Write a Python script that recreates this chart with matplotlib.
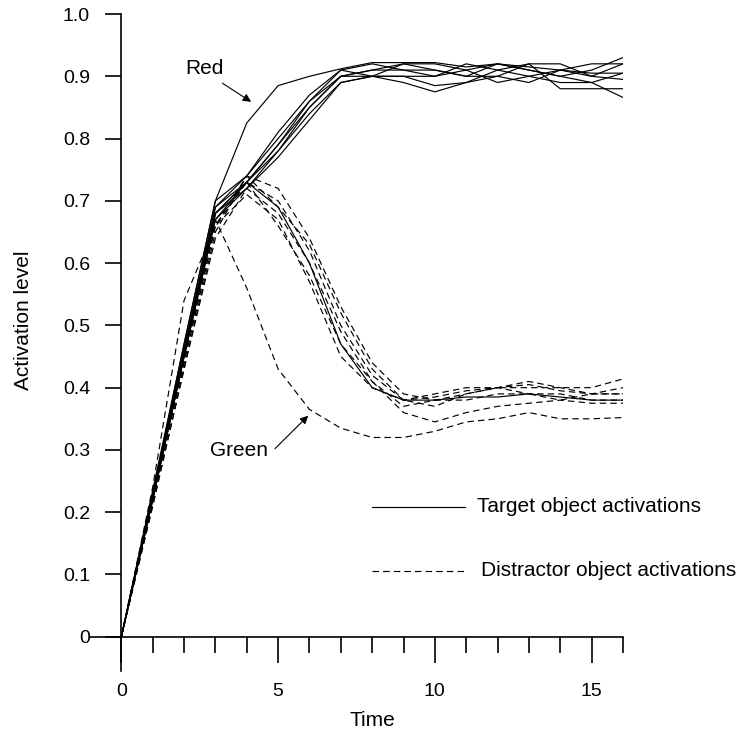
import numpy as np
import matplotlib
matplotlib.use("Agg")
import matplotlib.pyplot as plt
from matplotlib.lines import Line2D

plt.rcParams['font.family'] = ['Liberation Sans', 'DejaVu Sans']

# time steps
time = np.arange(0, 17)

# target object activations (solid)
red = [0, .235, .47, .70, .825, .885, .90, .912, .922, .922, .922, .915, .92, .915, .91, .905, .905]
targets = [
    [0, .23, .46, .69, .73, .79, .85, .90, .91, .91, .91, .90, .92, .91, .90, .91, .93],
    [0, .23, .46, .68, .72, .78, .84, .89, .90, .90, .885, .89, .90, .92, .92, .90, .92],
    [0, .22, .45, .68, .73, .79, .86, .91, .92, .91, .90, .92, .91, .90, .89, .89, .905],
    [0, .23, .47, .70, .74, .80, .86, .90, .90, .92, .92, .91, .89, .90, .91, .90, .895],
    [0, .22, .45, .67, .72, .77, .83, .89, .90, .89, .875, .89, .91, .92, .88, .88, .88],
    [0, .23, .46, .69, .74, .81, .87, .91, .90, .90, .90, .91, .92, .91, .90, .89, .866],
    [0, .22, .45, .68, .73, .78, .85, .90, .91, .92, .91, .90, .90, .89, .91, .92, .92],
]
# one target run that decays along with the distractors
target_low = [0, .22, .45, .67, .73, .69, .60, .47, .40, .38, .38, .385, .385, .39, .385, .38, .38]

# distractor object activations (dashed)
green = [0, .22, .45, .67, .56, .43, .365, .335, .32, .32, .33, .345, .35, .36, .35, .35, .352]
distractors = [
    [0, .22, .44, .66, .73, .70, .62, .50, .42, .38, .37, .39, .40, .40, .40, .40, .414],
    [0, .21, .43, .65, .74, .72, .64, .53, .44, .39, .38, .39, .40, .41, .40, .39, .40],
    [0, .22, .45, .68, .73, .66, .58, .47, .41, .37, .38, .38, .39, .39, .38, .39, .39],
    [0, .21, .43, .64, .72, .68, .60, .49, .41, .36, .345, .36, .37, .375, .38, .375, .375],
    [0, .22, .44, .66, .74, .69, .63, .52, .43, .38, .39, .40, .40, .39, .39, .38, .38],
    [0, .24, .54, .66, .71, .67, .57, .45, .40, .38, .385, .395, .40, .405, .395, .39, .39],
]

xticks = [0, 5, 10, 15]
yticks = [0, 0.1, 0.2, 0.3, 0.4, 0.5, 0.6, 0.7, 0.8, 0.9, 1.0]
ytick_labels = ['0', '0.1', '0.2', '0.3', '0.4', '0.5', '0.6', '0.7', '0.8', '0.9', '1.0']

fig = plt.figure(figsize=(7.45, 7.3), dpi=100)
ax = fig.add_axes([0.1208, 0.0808, 0.7154, 0.9])

solid = dict(color='black', lw=0.85, ls='-')
dashed = dict(color='black', lw=0.85, ls=(0, (5.5, 3.5)))

for d in distractors:
    ax.plot(time, d, **dashed)
ax.plot(time, green, **dashed)
for t in targets:
    ax.plot(time, t, **solid)
ax.plot(time, target_low, **solid)
ax.plot(time, red, **solid)

ax.set_xlim(-1, 16)
ax.set_ylim(-0.055, 1.0)

# axes cross at the origin
for s in ['top', 'right']:
    ax.spines[s].set_visible(False)
ax.spines['left'].set_position(('data', 0))
ax.spines['bottom'].set_position(('data', 0))
ax.spines['left'].set_linewidth(1.2)
ax.spines['bottom'].set_linewidth(1.2)

ax.set_xticks(xticks)
ax.set_xticks(np.arange(0, 17), minor=True)
ax.set_yticks(yticks)
ax.set_yticklabels(ytick_labels)
ax.tick_params(axis='x', which='major', direction='out', length=19, width=1.2, pad=14, labelsize=14)
ax.tick_params(axis='x', which='minor', direction='out', length=11.5, width=1.2)
ax.tick_params(axis='y', which='major', direction='out', length=11.5, width=1.2, pad=11, labelsize=14)

ax.set_xlabel('Time', fontsize=15)
ax.xaxis.set_label_coords(0.529, -0.061)
ax.set_ylabel('Activation level', fontsize=15)
ax.yaxis.set_label_coords(-0.107, 0.534)

# labels for the highlighted runs
arrow = dict(arrowstyle='-|>', color='black', lw=0.8, mutation_scale=12, shrinkA=0, shrinkB=0)
ax.text(2.64, 0.913, 'Red', fontsize=15, ha='center', va='center')
ax.annotate('', xy=(4.14, 0.859), xytext=(3.22, 0.889), arrowprops=arrow)
ax.text(3.76, 0.299, 'Green', fontsize=15, ha='center', va='center')
ax.annotate('', xy=(5.96, 0.355), xytext=(4.9, 0.302), arrowprops=arrow)

# key
ax.add_line(Line2D([7.99, 10.96], [0.209, 0.209], **solid))
ax.text(11.34, 0.209, 'Target object activations', fontsize=15, va='center', clip_on=False)
ax.add_line(Line2D([7.99, 10.96], [0.106, 0.106], **dashed))
ax.text(11.46, 0.106, 'Distractor object activations', fontsize=15, va='center', clip_on=False)

fig.savefig('out.png', dpi=100)
